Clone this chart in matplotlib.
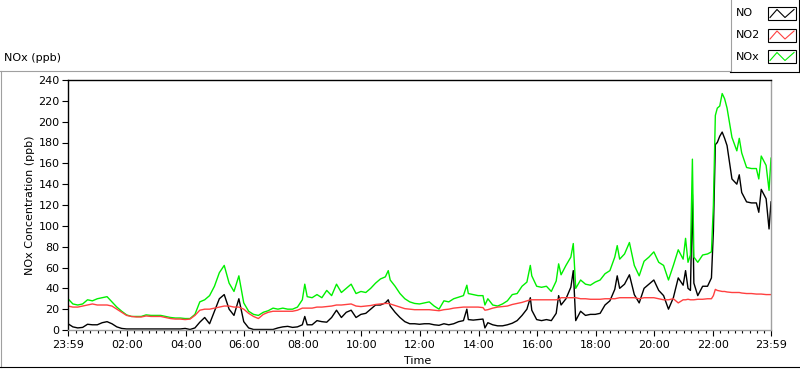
import matplotlib
matplotlib.use("Agg")
import matplotlib.pyplot as plt
from matplotlib.lines import Line2D
from matplotlib.patches import Rectangle

# minutes after 23:59 of the previous day
minutes = [0, 10, 20, 30, 40, 50, 60, 70, 80, 90, 100, 110, 120, 130, 140, 150,
           160, 170, 180, 190, 200, 210, 220, 230, 240, 250, 260, 270, 280, 290,
           300, 310, 320, 330, 340, 350, 360, 370, 380, 390, 400, 410, 420, 430,
           440, 450, 460, 470, 480, 485, 490, 500, 510, 520, 530, 540, 550, 560,
           570, 580, 590, 600, 610, 620, 630, 640, 650, 656, 660, 670, 680, 690,
           700, 710, 720, 730, 740, 750, 760, 770, 780, 790, 800, 810, 817, 820,
           830, 840, 850, 854, 860, 870, 880, 890, 900, 910, 920, 930, 940, 947,
           950, 960, 970, 980, 990, 1000, 1005, 1010, 1020, 1030, 1035, 1040,
           1050, 1060, 1070, 1080, 1090, 1100, 1110, 1120, 1125, 1130, 1140,
           1150, 1160, 1170, 1180, 1190, 1200, 1210, 1220, 1230, 1240, 1250,
           1260, 1265, 1270, 1275, 1279, 1282, 1290, 1300, 1310, 1318, 1322,
           1326, 1330, 1335, 1340, 1345, 1350, 1360, 1370, 1375, 1380, 1390,
           1400, 1410, 1415, 1420, 1430, 1436, 1440]

nox = [30, 25, 24, 25, 29, 28, 30, 31, 32, 27, 22, 18, 14.5, 13, 13, 13,
       14.5, 14, 14, 14, 13, 12, 11.5, 11.5, 11, 11, 15, 27, 29, 33,
       42, 55, 62, 45, 37, 52, 26, 18, 15, 14, 17, 18.5, 21, 20,
       21, 20, 20, 22, 29, 44, 32, 31, 34, 31, 38, 33, 44, 36,
       40, 44, 35, 37, 36, 40, 45, 49, 51, 57, 48, 42, 35, 30,
       27, 25.5, 25, 26, 27, 23, 20, 28, 27, 30, 31.5, 33, 43, 35,
       34, 33, 33, 24, 30, 24, 23, 25, 28, 34, 35, 42, 46, 62,
       52, 42, 41, 42, 37, 47, 63.5, 53, 62, 70, 83, 40,
       48, 44, 43, 46, 48, 54, 57, 70, 81, 68, 73,
       84, 62, 52, 66, 70, 75, 65, 62, 48, 62, 77,
       68, 88, 65, 72, 164, 70, 65, 72, 73, 75, 120,
       206, 213, 215, 227, 222, 213, 185, 172, 184, 170, 156,
       155, 155, 145, 167, 158, 134, 165]

no2 = [23, 22, 22, 23, 24, 25, 24, 24, 24, 23, 20, 17, 14, 13, 12.5, 12.5,
       13.5, 13, 13, 13, 12, 11, 10.5, 10.5, 10, 10.5, 14, 19, 20, 20,
       21, 22, 23, 23, 22, 22, 20, 16, 13, 11, 15, 17, 18, 18,
       18, 18, 18, 19, 21, 21, 21, 21, 22, 22, 22.5, 23, 24, 24,
       24.5, 25, 23, 22.5, 23, 23.5, 24.5, 25, 25.5, 25.5, 25, 23.5, 22, 20.5,
       20, 19.5, 19.5, 19.5, 19.5, 19, 18.5, 19.5, 20, 21, 21.5, 22, 22, 22,
       22, 22, 21.5, 19, 19.5, 21, 22, 22.5, 23, 24.5, 25.5, 26.5, 28, 29,
       29, 29, 29, 29, 29, 29, 29.5, 31, 31, 31, 31, 31,
       30, 30, 29.5, 29.5, 29.5, 30, 30, 30, 30.5, 31, 31,
       31, 31, 30, 31, 31, 31, 30, 29, 29, 30, 26,
       29, 29, 29.5, 29, 29, 29, 29.5, 29.5, 30, 30, 33,
       39, 38, 37.5, 37, 37, 36.5, 36, 36, 36, 35.5, 35,
       35, 34.5, 34.5, 34.5, 34, 34, 34]

no = [6, 3, 2, 2.5, 5.5, 5, 5, 7, 8, 6, 3, 1.5, 1, 1, 1, 1,
      1, 1, 1, 1, 1, 1, 1, 1, 1.5, 0.5, 2, 7.5, 12, 6,
      18, 30, 34, 20, 14, 30, 8, 2, 0.5, 0.5, 0.5, 0.5, 0.5, 2,
      3, 3.5, 2.5, 3, 5, 13, 5, 5, 9, 8, 7.5, 12, 19, 12,
      17, 19, 12, 15, 16, 20, 24, 24, 26, 29, 23, 17, 12, 8,
      6, 6, 5.5, 6, 6, 5, 4.5, 6, 5, 6, 8, 9, 20, 10,
      9.5, 10, 10.5, 2, 7, 5, 4, 4, 5, 6.5, 9, 14, 20, 31,
      19, 10, 9, 10, 9, 16, 33, 24, 30, 41, 57, 9,
      18, 14, 15, 15, 16, 24, 28, 39, 52, 40, 44,
      53, 34, 26, 40, 44, 48, 38, 33, 20, 31, 50,
      43, 57, 40, 38, 130, 45, 33, 42, 42, 50, 95,
      178, 180, 186, 190, 184, 177, 145, 140, 149, 132, 123,
      122, 122, 113, 135, 126, 97, 123]

tick_pos = [0, 121, 241, 361, 481, 601, 721, 841, 961, 1081, 1201, 1321, 1440]
tick_labels = ["23:59", "02:00", "04:00", "06:00", "08:00", "10:00", "12:00",
               "14:00", "16:00", "18:00", "20:00", "22:00", "23:59"]

W, H = 800, 369
plt.rcParams['font.family'] = ['DejaVu Sans']
plt.rcParams['font.size'] = 8

fig = plt.figure(figsize=(W / 100, H / 100), dpi=100)


def fx(x):
    return x / W


def fy(y):
    return 1 - y / H


ax = fig.add_axes([fx(68), fy(330), fx(771) - fx(68), fy(80) - fy(330)])
ax.plot(minutes, no, color='black', linewidth=1.0)
ax.plot(minutes, nox, color='#00f000', linewidth=1.0)
ax.plot(minutes, no2, color='#ff4040', linewidth=1.0)

ax.set_xlim(0, 1440)
ax.set_ylim(0, 240)
ax.set_yticks(range(0, 241, 20))
ax.set_xticks(tick_pos)
ax.set_xticklabels(tick_labels)
ax.set_xticks([m for m in range(16, 1440, 15) if m not in tick_pos], minor=True)
ax.tick_params(axis='both', which='major', direction='out', length=4,
               width=0.8, color='black', labelcolor='black', pad=2)
ax.tick_params(axis='x', which='minor', direction='out', length=2.5, width=0.8)
ax.tick_params(axis='x', pad=3)

# sunken frame look
ax.spines['left'].set_color('black')
ax.spines['top'].set_color('black')
ax.spines['right'].set_color('#a0a0a0')
ax.spines['bottom'].set_color('#a0a0a0')
for s in ax.spines.values():
    s.set_linewidth(1.0)

fig.text(fx(30), fy(205), "NOx Concentration (ppb)", rotation=90,
         ha='center', va='center')
fig.text(fx(418), fy(361), "Time", ha='center', va='center')
fig.text(fx(4), fy(58), "NOx (ppb)", ha='left', va='center')

# outer panel borders
fig.add_artist(Line2D([fx(0), fx(730)], [fy(70.5), fy(70.5)], color='#a0a0a0', lw=0.8))
fig.add_artist(Line2D([fx(1), fx(1)], [fy(70.5), fy(367)], color='#a0a0a0', lw=0.8))
fig.add_artist(Line2D([fx(0), fx(799)], [fy(367), fy(367)], color='black', lw=0.8))

# legend
fig.add_artist(Rectangle((fx(730), fy(72)), fx(799) - fx(730), fy(0) - fy(72),
                         facecolor='white', edgecolor='none'))
fig.add_artist(Line2D([fx(730.5), fx(730.5)], [fy(0), fy(72)], color='#a0a0a0', lw=0.8))
fig.add_artist(Line2D([fx(730), fx(799)], [fy(72), fy(72)], color='black', lw=0.8))
fig.add_artist(Line2D([fx(799), fx(799)], [fy(0), fy(72)], color='black', lw=0.8))

names = ["NO", "NO2", "NOx"]
colors = ['black', '#ff4040', '#00f000']
box_tops = [7, 28.5, 50]
for name, col, top in zip(names, colors, box_tops):
    fig.text(fx(736), fy(top + 6.5), name, ha='left', va='center')
    fig.add_artist(Rectangle((fx(768), fy(top + 13)), fx(796) - fx(768),
                             fy(top) - fy(top + 13), facecolor='white',
                             edgecolor='black', lw=0.8))
    fig.add_artist(Line2D([fx(770), fx(777), fx(785), fx(794)],
                          [fy(top + 10.5), fy(top + 2.5), fy(top + 10.5), fy(top + 2.5)],
                          color=col, lw=0.8))

fig.savefig('out.png', dpi=100)
